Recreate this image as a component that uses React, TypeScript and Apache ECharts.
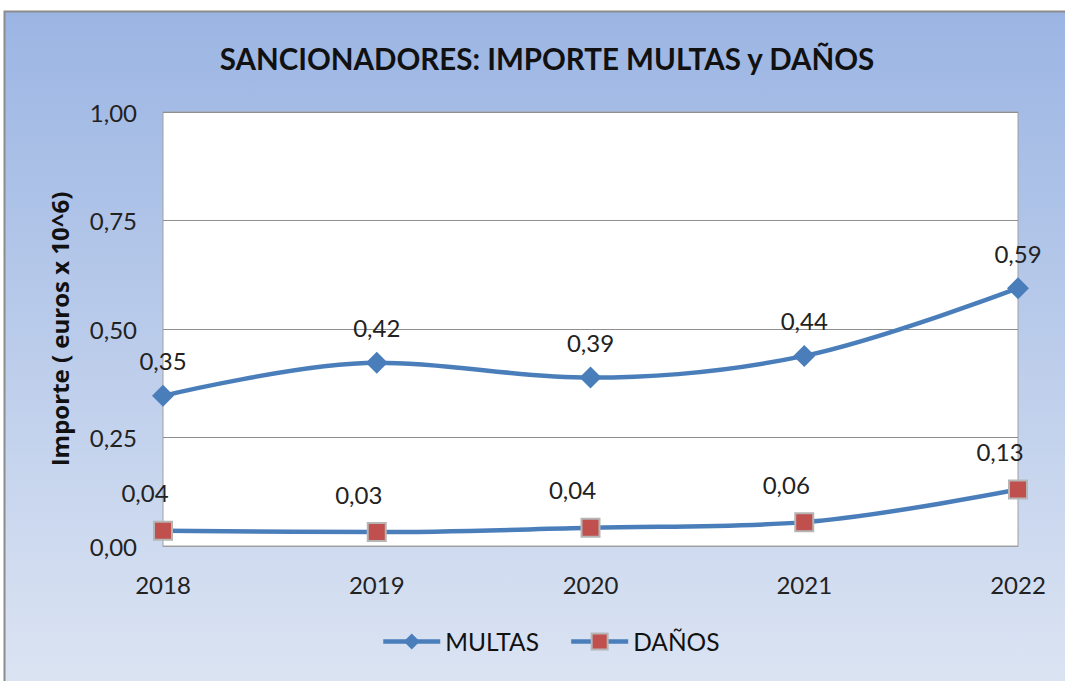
import React, { useEffect, useRef } from "react";
import * as echarts from "echarts";

const years = ["2018", "2019", "2020", "2021", "2022"];
const multas = [0.346, 0.422, 0.388, 0.438, 0.594];
const danos = [0.035, 0.032, 0.042, 0.055, 0.13];
const yTicks = [0, 0.25, 0.5, 0.75, 1];

const FONT = "Lato, 'Open Sans', sans-serif";
const fmt = (v: number) => (Math.round(v * 100 + 1e-9) / 100).toFixed(2).replace(".", ",");

export default function App() {
  const ref = useRef<HTMLDivElement>(null);
  useEffect(() => {
    document.body.style.margin = "0";
    const chart = echarts.init(ref.current!, null, { renderer: "svg" });
    chart.setOption({
      animation: false,
      backgroundColor: "#ffffff",
      graphic: [
        {
          type: "rect",
          z: -10,
          silent: true,
          shape: { x: 4.5, y: 11.5, width: 1080, height: 690 },
          style: {
            fill: new echarts.graphic.LinearGradient(0, 0, 0, 1, [
              { offset: 0, color: "#9bb5e3" },
              { offset: 1, color: "#dde5f3" },
            ]),
            stroke: "#8c8c8c",
            lineWidth: 2,
          },
        },
      ],
      title: {
        text: "SANCIONADORES: IMPORTE MULTAS y DAÑOS",
        left: 542,
        textAlign: "center",
        top: 38,
        textStyle: { fontFamily: FONT, fontSize: 29.5, fontWeight: "bold", color: "#111" },
      },
      legend: {
        bottom: 22,
        left: 376,
        itemWidth: 57,
        itemHeight: 20,
        itemGap: 30,
        lineStyle: { width: 4.5 },
        textStyle: { fontFamily: FONT, fontSize: 24.5, color: "#111" },
        data: ["MULTAS", "DAÑOS"],
      },
      grid: { left: 163, right: 47, top: 112, bottom: 135, show: true, backgroundColor: "#fff", borderColor: "#a0a0a0", borderWidth: 1 },
      xAxis: {
        type: "category",
        data: years,
        boundaryGap: false,
        axisLine: { show: true, lineStyle: { color: "#a0a0a0" } },
        axisTick: { show: false },
        axisLabel: { fontFamily: FONT, fontSize: 24, color: "#222", margin: 26 },
        splitLine: { show: false },
      },
      yAxis: {
        type: "value",
        min: 0,
        max: 1,
        interval: 0.25,
        name: "Importe ( euros x 10^6)",
        nameLocation: "middle",
        nameGap: 92,
        nameTextStyle: { fontFamily: "'Open Sans', sans-serif", fontSize: 24, fontWeight: "bold", color: "#111" },
        axisLine: { show: false },
        axisTick: { show: false },
        axisLabel: {
          fontFamily: FONT,
          fontSize: 24,
          color: "#222",
          margin: 26,
          formatter: (v: number) => (yTicks.includes(v) ? v.toFixed(2).replace(".", ",") : ""),
        },
        splitLine: { lineStyle: { color: "#8f8f8f", width: 1 } },
      },
      series: [
        {
          name: "MULTAS",
          type: "line",
          data: multas,
          smooth: 0.35,
          symbol: "diamond",
          symbolSize: 22,
          lineStyle: { color: "#4a7ebb", width: 4.5 },
          itemStyle: { color: "#4a7ebb" },
          label: {
            show: true,
            position: "top",
            distance: 12,
            fontFamily: FONT,
            fontSize: 24,
            color: "#222",
            formatter: (p: any) => fmt(p.value),
          },
        },
        {
          name: "DAÑOS",
          type: "line",
          data: danos,
          smooth: 0.35,
          symbol: "rect",
          symbolSize: 18,
          lineStyle: { color: "#4a7ebb", width: 4.5 },
          itemStyle: { color: "#c0504d", borderColor: "#b5b5b5", borderWidth: 2 },
          label: {
            show: true,
            position: "top",
            distance: 16,
            offset: [-18, 0],
            fontFamily: FONT,
            fontSize: 24,
            color: "#222",
            formatter: (p: any) => fmt(p.value),
          },
        },
      ],
    });
    return () => chart.dispose();
  }, []);
  return <div ref={ref} style={{ position: "absolute", left: 0, top: 0, width: 1065, height: 681 }} />;
}
